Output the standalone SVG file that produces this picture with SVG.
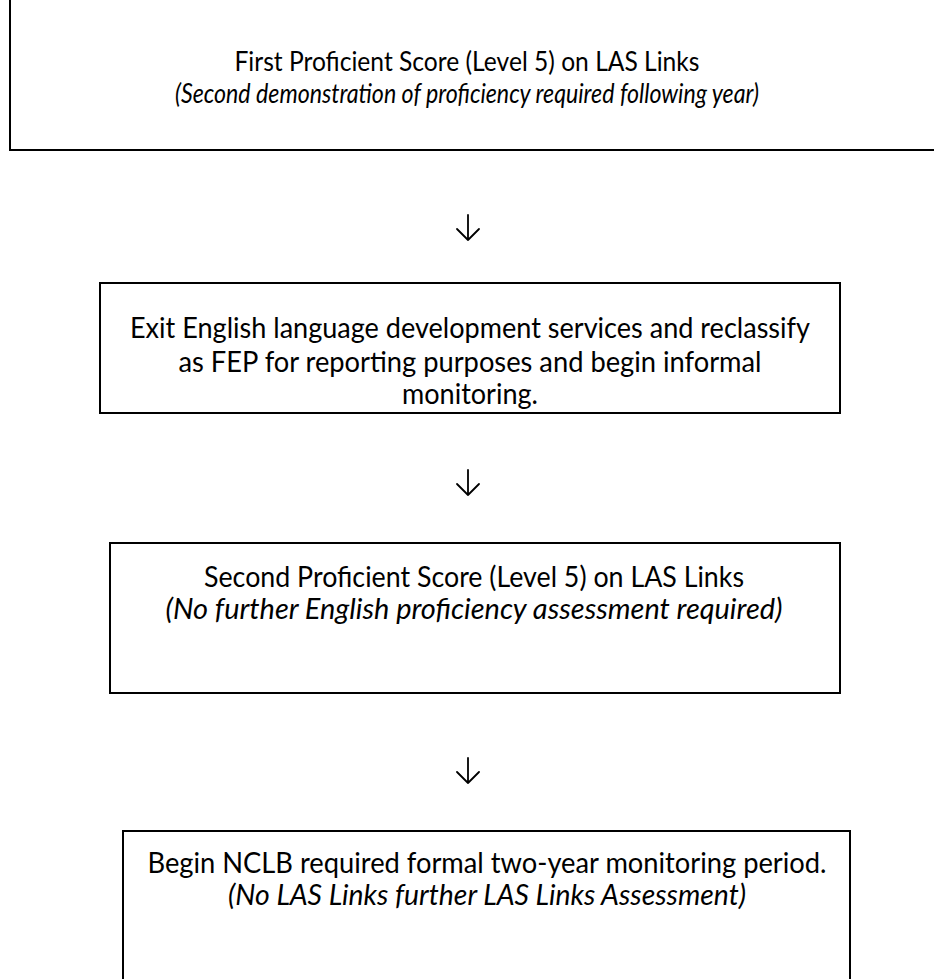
<svg xmlns="http://www.w3.org/2000/svg" width="934" height="979" viewBox="0 0 934 979">
<style>
.box{fill:#fff;stroke:#000;stroke-width:2}
.t{font-family:Lato,"Open Sans","Liberation Sans",sans-serif;font-size:28px;fill:#000;text-anchor:middle}
.s{font-size:27px}
.i{font-style:italic}
.arr{fill:none;stroke:#000;stroke-width:1.8;stroke-linecap:round;stroke-linejoin:round}
</style>
<rect width="934" height="979" fill="#fff"/>
<g id="node1">
<rect class="box" x="10" y="-10" width="935" height="160"/>
<text class="t s" x="467" y="71" textLength="465" lengthAdjust="spacingAndGlyphs">First Proficient Score (Level 5) on LAS Links</text>
<text class="t s i" x="467" y="103" textLength="584" lengthAdjust="spacingAndGlyphs">(Second demonstration of proficiency required following year)</text>
</g>
<g id="node2">
<rect class="box" x="100" y="283" width="740" height="130"/>
<text class="t" x="470" y="338" textLength="680" lengthAdjust="spacingAndGlyphs">Exit English language development services and reclassify</text>
<text class="t" x="470" y="372" textLength="583" lengthAdjust="spacingAndGlyphs">as FEP for reporting purposes and begin informal</text>
<text class="t" x="470" y="404" textLength="136" lengthAdjust="spacingAndGlyphs">monitoring.</text>
</g>
<g id="node3">
<rect class="box" x="110" y="543" width="730" height="150"/>
<text class="t" x="474" y="587" textLength="540" lengthAdjust="spacingAndGlyphs">Second Proficient Score (Level 5) on LAS Links</text>
<text class="t i" x="474" y="619" textLength="617" lengthAdjust="spacingAndGlyphs">(No further English proficiency assessment required)</text>
</g>
<g id="node4">
<rect class="box" x="123" y="831" width="727" height="170"/>
<text class="t" x="487" y="873" textLength="679" lengthAdjust="spacingAndGlyphs">Begin NCLB required formal two-year monitoring period.</text>
<text class="t i" x="487" y="905" textLength="518" lengthAdjust="spacingAndGlyphs">(No LAS Links further LAS Links Assessment)</text>
</g>
<g id="connectors">
<path class="arr" d="M468 215V240M457 229L468 240L479 229"/>
<path class="arr" d="M468 470V495M457 484L468 495L479 484"/>
<path class="arr" d="M468 758V783M457 772L468 783L479 772"/>
</g>
</svg>
